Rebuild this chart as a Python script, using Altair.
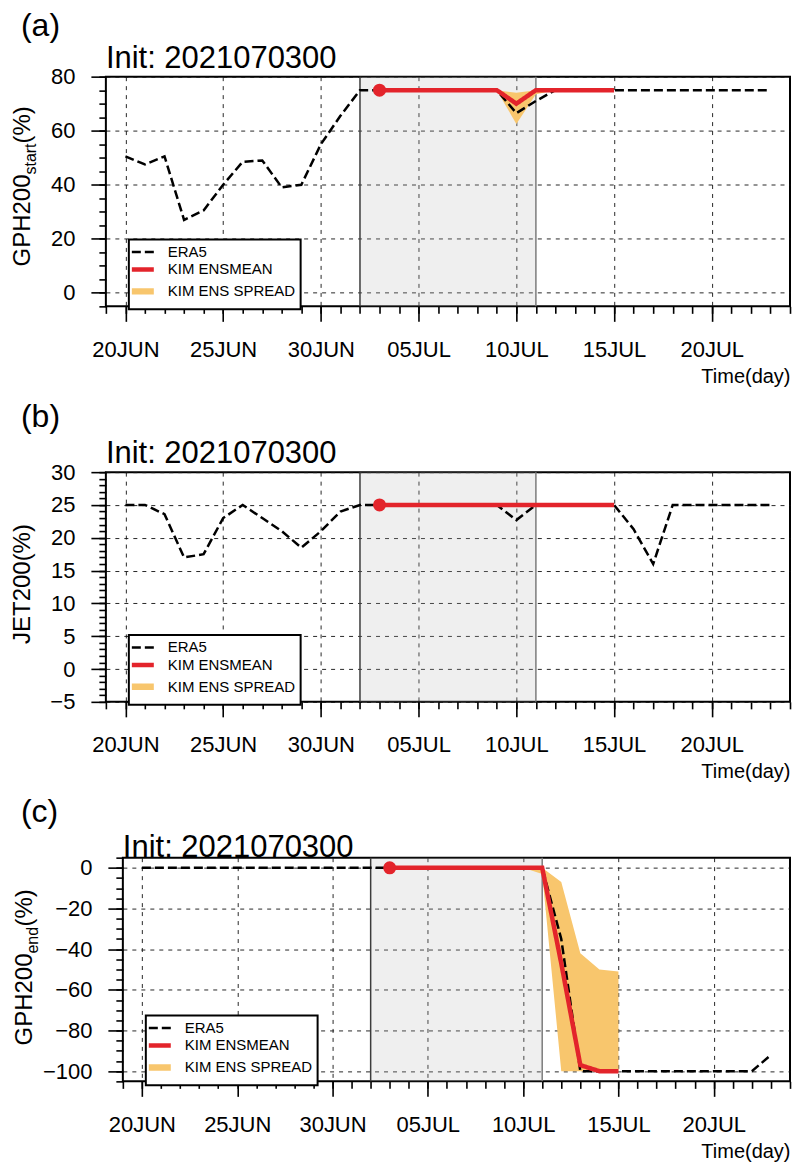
import altair as alt
import pandas as pd

FONT = "Liberation Sans"

# ---------------- data ----------------
era5_dates = [d.strftime("%Y-%m-%d") for d in pd.date_range("2021-06-20", "2021-07-23", freq="D")]
kim_dates = [d.strftime("%Y-%m-%d") for d in pd.date_range("2021-07-03", "2021-07-15", freq="D")]

# (a) GPH200 start
era5_gph_start = [50.5, 47.5, 50.5, 27.0, 30.5, 40.0, 48.5, 49.0, 39.0, 40.0, 55.0,
                  65.5, 75, 75, 75, 75, 75, 75, 75, 75, 66.5, 71.0,
                  75, 75, 75, 75, 75, 75, 75, 75, 75, 75, 75, 75]
kim_gph_start = [75, 75, 75, 75, 75, 75, 75, 70, 75, 75, 75, 75, 75]
kim_gph_start_lo = [75, 75, 75, 75, 75, 75, 75, 62.5, 73.5, 75, 75, 75, 75]
kim_gph_start_hi = [75, 75, 75, 75, 75, 75, 75, 74, 75, 75, 75, 75, 75]

# (b) JET200
era5_jet = [25, 25, 23.6, 17.0, 17.5, 23.0, 25.0, 23.0, 21.0, 18.5, 21.0,
            24.0, 25, 25, 25, 25, 25, 25, 25, 25, 22.7, 25,
            25, 25, 25, 25, 21.3, 16.0, 25, 25, 25, 25, 25, 25]
kim_jet = [25, 25, 25, 25, 25, 25, 25, 25, 25, 25, 25, 25, 25]
kim_jet_lo = [25, 25, 25, 25, 25, 25, 25, 25, 25, 25, 25, 25, 25]
kim_jet_hi = [25, 25, 25, 25, 25, 25, 25, 25, 25, 25, 25, 25, 25]

# (c) GPH200 end
era5_gph_end = [0, 0, 0, 0, 0, 0, 0, 0, 0, 0, 0,
                0, 0, 0, 0, 0, 0, 0, 0, 0, 0, 0,
                -35, -100, -100, -100, -100, -100, -100, -100, -100, -100, -100, -92]
kim_gph_end = [0, 0, 0, 0, 0, 0, 0, 0, 0, -47, -97, -100, -100]
kim_gph_end_lo = [0, 0, 0, 0, 0, 0, 0, 0, -3, -100, -100, -100, -100]
kim_gph_end_hi = [0, 0, 0, 0, 0, 0, 0, 0, 0, -7, -42, -50, -51]

panel_tags = ["(a)", "(b)", "(c)"]
init_label = "Init: 2021070300"
series_names = ["ERA5", "KIM ENSMEAN", "KIM ENS SPREAD"]
series_colors = ["#000000", "#e3242b", "#f8c66d"]
shade_bounds = ["2021-07-02", "2021-07-11"]
x_domain = ["2021-06-19", "2021-07-24"]
x_major = ["2021-06-20", "2021-06-25", "2021-06-30", "2021-07-05",
           "2021-07-10", "2021-07-15", "2021-07-20"]
x_minor = [d.strftime("%Y-%m-%d") for d in pd.date_range("2021-06-19", "2021-07-24", freq="D")]
x_title = "Time(day)"

RED = series_colors[1]
ORANGE = series_colors[2]


def dt(s):
    y, m, d = map(int, s.split("-"))
    return alt.DateTime(year=y, month=m, date=d, utc=True)


def text_layer(txt, x, y, size, align="left", baseline="alphabetic", angle=0):
    return alt.Chart(pd.DataFrame({"t": [txt]})).mark_text(
        align=align, baseline=baseline, angle=angle, fontSize=size, font=FONT, color="black"
    ).encode(x=alt.value(x), y=alt.value(y), text="t:N")


def make_panel(tag, era5_vals, kim_vals, lo_vals, hi_vals, ydom, ymajor, yminor,
               w, h, ytitle_main, ytitle_sub, tag_x, tag_y, init_y, yt_x, yt_y, leg_y):
    era = pd.DataFrame({"date": era5_dates, "value": era5_vals, "series": series_names[0]})
    kim = pd.DataFrame({"date": kim_dates, "value": kim_vals, "series": series_names[1]})
    spr = pd.DataFrame({"date": kim_dates, "lo": lo_vals, "hi": hi_vals})
    shade = pd.DataFrame({"start": [shade_bounds[0]], "end": [shade_bounds[1]]})
    left_edge = pd.DataFrame({"date": [shade_bounds[0]]})
    right_edge = pd.DataFrame({"date": [shade_bounds[1]]})
    init = kim.iloc[[0]]

    xscale = alt.Scale(type="utc", domain=[dt(x_domain[0]), dt(x_domain[1])], nice=False)
    yscale = alt.Scale(domain=ydom, nice=False, zero=False)

    x_major_axis = alt.Axis(orient="bottom", values=[dt(s) for s in x_major],
                            labelExpr="upper(utcFormat(datum.value, '%d%b'))",
                            tickSize=15, labelPadding=18, labelFontSize=22,
                            labelFlush=False, labelOverlap=False,
                            grid=True, title=x_title, titleAnchor="end",
                            titleFontSize=20, titleFontWeight="normal", titlePadding=6)
    x_minor_axis = alt.Axis(orient="bottom", values=[dt(s) for s in x_minor],
                            tickSize=7, labels=False, grid=False, title=None)
    y_major_axis = alt.Axis(orient="left", values=ymajor, tickSize=15, labelPadding=16,
                            labelFontSize=22, grid=True, title=None, labelOverlap=False,
                            labelFlush=False)
    y_minor_axis = alt.Axis(orient="left", values=yminor, tickSize=7, labels=False,
                            grid=False, title=None)

    legend = alt.Legend(title=None, orient="none", legendX=23, legendY=leg_y,
                        direction="vertical", strokeColor="black", fillColor="white",
                        padding=5, symbolType="M-2,0H2", symbolSize=121,
                        labelFont=FONT, labelFontSize=15, labelColor="black",
                        labelOffset=16, rowPadding=0, labelLimit=400)
    color_scale = alt.Scale(domain=series_names, range=series_colors)
    dash_scale = alt.Scale(domain=series_names, range=[[9, 4], [1, 0], [1, 0]])
    width_scale = alt.Scale(type="point", domain=series_names, range=[2.5, 6.5], padding=0)

    rect = alt.Chart(shade).mark_rect(color="#b4b4b4", opacity=0.22).encode(
        x=alt.X("start:T", scale=xscale, axis=None), x2="end:T")
    rule_l = alt.Chart(left_edge).mark_rule(color="#3c3c3c", strokeWidth=1.5).encode(
        x=alt.X("date:T", scale=xscale, axis=None))
    rule_r = alt.Chart(right_edge).mark_rule(color="#7c7c7c", strokeWidth=1.5).encode(
        x=alt.X("date:T", scale=xscale, axis=None))
    area = alt.Chart(spr).mark_area(color=ORANGE, opacity=1).encode(
        x=alt.X("date:T", scale=xscale, axis=x_minor_axis),
        y=alt.Y("lo:Q", scale=yscale, axis=y_minor_axis),
        y2="hi:Q")

    def line_enc(ax_x, ax_y):
        return dict(
            x=alt.X("date:T", scale=xscale, axis=ax_x),
            y=alt.Y("value:Q", scale=yscale, axis=ax_y),
            color=alt.Color("series:N", scale=color_scale, legend=legend),
            strokeDash=alt.StrokeDash("series:N", scale=dash_scale, legend=legend),
            strokeWidth=alt.StrokeWidth("series:N", scale=width_scale, legend=legend),
        )

    era_line = alt.Chart(era).mark_line().encode(**line_enc(x_major_axis, y_major_axis))
    kim_line = alt.Chart(kim).mark_line().encode(**line_enc(None, None))
    dot = alt.Chart(init).mark_circle(color=RED, size=170, opacity=1).encode(
        x=alt.X("date:T", scale=xscale, axis=None),
        y=alt.Y("value:Q", scale=yscale, axis=None))

    texts = [text_layer(tag, tag_x, tag_y, 32, baseline="middle"),
             text_layer(init_label, 0, init_y, 31)]
    if ytitle_sub:
        sub_len = 31 if ytitle_sub == "start" else 27
        texts.append(text_layer(ytitle_main, yt_x, yt_y, 24, align="right", angle=270))
        texts.append(text_layer(ytitle_sub, yt_x + 6, yt_y, 16, align="left", angle=270))
        texts.append(text_layer("(%)", yt_x, yt_y - sub_len, 24, align="left", angle=270))
    else:
        texts.append(text_layer(ytitle_main, yt_x, yt_y, 24, align="center", angle=270))

    return alt.layer(rect, rule_l, rule_r, area, era_line, kim_line, dot, *texts).resolve_axis(
        x="independent", y="independent").properties(width=w, height=h)


pa = make_panel(panel_tags[0], era5_gph_start, kim_gph_start, kim_gph_start_lo, kim_gph_start_hi,
                [-5, 80], [0, 20, 40, 60, 80], list(range(-5, 81, 5)),
                685, 230, "GPH200", "start", -85, -51, -9, -76, 98, 163)
pb = make_panel(panel_tags[1], era5_jet, kim_jet, kim_jet_lo, kim_jet_hi,
                [-5, 30], [-5, 0, 5, 10, 15, 20, 25, 30], list(range(-5, 31, 1)),
                685, 230, "JET200(%)", "", -85, -55.5, -9, -76, 112, 163)
pc = make_panel(panel_tags[2], era5_gph_end, kim_gph_end, kim_gph_end_lo, kim_gph_end_hi,
                [-105, 5], [-100, -80, -60, -40, -20, 0], list(range(-105, 6, 5)),
                668, 224, "GPH200", "end", -102, -46, -1, -91, 96, 158)

# small invisible spacer that shifts panel (c) to the right, as in the original
spacer = alt.Chart(pd.DataFrame({"s": [0]})).mark_point(opacity=0, size=1).encode(
    x=alt.value(0), y=alt.value(0)
).properties(width=17, height=10, view=alt.ViewBackground(strokeOpacity=0))

row_c = alt.hconcat(spacer, pc, spacing=0, bounds="flush").resolve_scale(
    color="independent", strokeDash="independent", strokeWidth="independent"
).resolve_legend(
    color="independent", strokeDash="independent", strokeWidth="independent"
)

chart = alt.vconcat(pa, pb, row_c, spacing=12).resolve_scale(
    x="independent", y="independent", color="independent",
    strokeDash="independent", strokeWidth="independent"
).resolve_legend(
    color="independent", strokeDash="independent", strokeWidth="independent"
).properties(
    padding={"left": 2, "top": 0, "right": 0, "bottom": 0}
).configure_view(
    stroke="black", strokeWidth=2
).configure_axis(
    domain=False, labelFont=FONT, titleFont=FONT, labelColor="black", titleColor="black",
    tickColor="black", tickWidth=1.6, gridColor="#111111", gridDash=[4, 5], gridWidth=1,
    gridOpacity=0.9
).configure_legend(
    strokeWidth=2
)

chart.save("out.html", embed_options={"renderer": "svg", "actions": False})
